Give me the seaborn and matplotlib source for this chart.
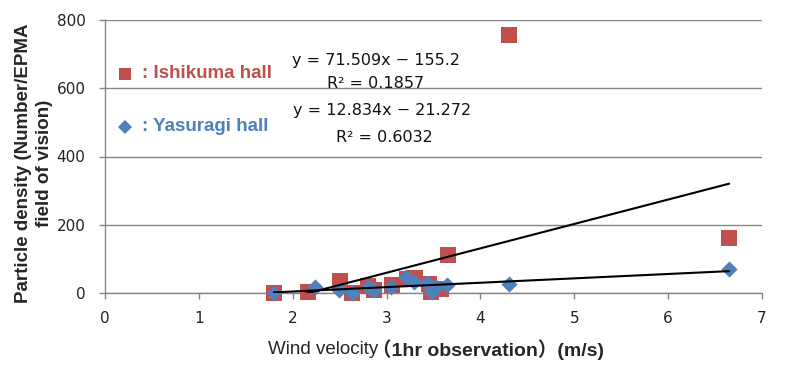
import matplotlib
matplotlib.use("Agg")
import matplotlib.pyplot as plt
from matplotlib.lines import Line2D
import seaborn as sns
import pandas as pd
import numpy as np

# ---- data ----
ishikuma_x = [1.80, 2.16, 2.50, 2.63, 2.80, 2.87, 3.06, 3.22, 3.30, 3.45, 3.47, 3.58, 3.65, 4.30, 6.65]
ishikuma_y = [0, 3, 35, 0, 20, 8, 22, 42, 45, 25, 3, 12, 110, 755, 160]
yasuragi_x = [1.80, 2.24, 2.49, 2.63, 2.80, 2.87, 3.05, 3.21, 3.29, 3.43, 3.48, 3.53, 3.64, 4.30, 6.65]
yasuragi_y = [0, 18, 8, 0, 18, 9, 18, 47, 32, 28, 3, 18, 22, 25, 70]

# trendline coefficients shown on the chart
ishikuma_fit = [71.509, -155.2]
yasuragi_fit = [12.834, -21.272]
eq_labels = ["y = 71.509x \u2212 155.2", "R\u00b2 = 0.1857",
             "y = 12.834x \u2212 21.272", "R\u00b2 = 0.6032"]
series_labels = [": Ishikuma hall", ": Yasuragi hall"]
x_ticks = [0, 1, 2, 3, 4, 5, 6, 7]
y_ticks = [0, 200, 400, 600, 800]

RED = "#C0504D"
BLUE = "#4F81BD"
GRID = "#868686"

sns.set_style("white")
plt.rcParams["font.family"] = ["DejaVu Sans", "Noto Sans CJK JP"]

W, H = 792, 372
fig = plt.figure(figsize=(W / 100, H / 100), dpi=100)
ax = fig.add_axes([105 / W, 1 - 293 / H, (762 - 105) / W, (293 - 20) / H])

df_i = pd.DataFrame({"wind": ishikuma_x, "density": ishikuma_y})
df_y = pd.DataFrame({"wind": yasuragi_x, "density": yasuragi_y})

sns.scatterplot(data=df_i, x="wind", y="density", marker="s", color=RED,
                s=140, linewidth=0, ax=ax, zorder=3, clip_on=False)
sns.scatterplot(data=df_y, x="wind", y="density", marker="D", color=BLUE,
                s=68, linewidth=0, ax=ax, zorder=4, clip_on=False)

# trendlines
for xs, fit in [(ishikuma_x, ishikuma_fit), (yasuragi_x, yasuragi_fit)]:
    xr = np.array([min(xs), max(xs)])
    ax.plot(xr, fit[0] * xr + fit[1], color="black", lw=1.5, zorder=5)

ax.set_xlim(0, 7)
ax.set_ylim(0, 800)
ax.set_xticks(x_ticks)
ax.set_yticks(y_ticks)
ax.yaxis.grid(True, color=GRID, lw=1.0, zorder=0)
ax.xaxis.grid(False)
ax.set_axisbelow(True)
for s in ["top", "right"]:
    ax.spines[s].set_visible(False)
for s in ["left", "bottom"]:
    ax.spines[s].set_color(GRID)
    ax.spines[s].set_linewidth(1.0)
ax.tick_params(axis="both", which="major", direction="out", length=4,
               width=1.0, color=GRID, labelsize=11, labelcolor="#222222")
ax.tick_params(axis="y", pad=10, left=True)
ax.tick_params(axis="x", pad=9, bottom=True)
ax.set_xlabel("")
ax.set_ylabel("")

LS = ["Liberation Sans", "Noto Sans CJK JP"]

# y-axis label
fig.text(34 / W, 1 - 163 / H, "Particle density (Number/EPMA\nfield of vision)",
         rotation=90, ha="center", va="center", fontsize=13.5,
         fontweight="bold", family=LS, linespacing=1.35)

# x-axis label (mixed weight)
fig.text(378 / W, 1 - 350 / H, "Wind velocity", ha="right", va="center",
         fontsize=13.5, family=LS)
fig.text(372 / W, 1 - 350 / H, "\uff081hr observation\uff09(m/s)", ha="left",
         va="center", fontsize=14, fontweight="bold", family=LS)

# equation labels
eq_pos = [(376, 60), (376, 83), (382, 111), (384, 137)]
for (px, py), t in zip(eq_pos, eq_labels):
    fig.text(px / W, 1 - py / H, t, ha="center", va="center", fontsize=11.5,
             color="#111111")

# custom legend texts
fig.add_artist(Line2D([125 / W], [1 - 74 / H], marker="s", ms=9, color=RED,
                      mew=0, transform=fig.transFigure))
fig.add_artist(Line2D([125 / W], [1 - 127 / H], marker="D", ms=7.5, color=BLUE,
                      mew=0, transform=fig.transFigure))
fig.text(142 / W, 1 - 74 / H, series_labels[0], ha="left", va="center",
         fontsize=13.5, fontweight="bold", color=RED, family=LS)
fig.text(142 / W, 1 - 127 / H, series_labels[1], ha="left", va="center",
         fontsize=13.5, fontweight="bold", color=BLUE, family=LS)

fig.savefig("out.png", dpi=100)
